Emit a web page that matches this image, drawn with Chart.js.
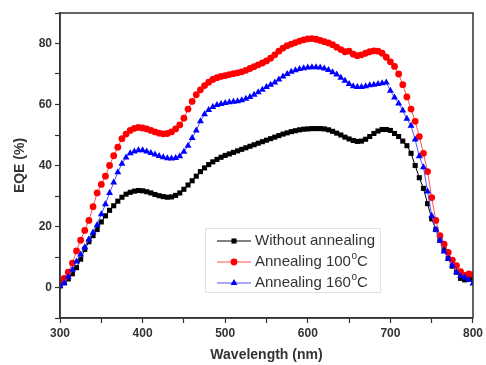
<!DOCTYPE html>
<html>
<head>
<meta charset="utf-8">
<script src="https://cdn.jsdelivr.net/npm/chart.js@4.4.1/dist/chart.umd.min.js"></script>
<style>
  html, body { margin: 0; padding: 0; background: #fff; }
  #wrap { width: 486px; height: 365px; }
</style>
</head>
<body>
<div id="wrap"><canvas id="eqe-chart" width="486" height="365"></canvas></div>
<script>
// Dados
const wavelengths = [
  300, 305, 310, 315, 320, 325, 330, 335, 340, 345, 350, 355, 360, 365, 370, 375, 380, 385, 390, 395,
  400, 405, 410, 415, 420, 425, 430, 435, 440, 445, 450, 455, 460, 465, 470, 475, 480, 485, 490, 495,
  500, 505, 510, 515, 520, 525, 530, 535, 540, 545, 550, 555, 560, 565, 570, 575, 580, 585, 590, 595,
  600, 605, 610, 615, 620, 625, 630, 635, 640, 645, 650, 655, 660, 665, 670, 675, 680, 685, 690, 695,
  700, 705, 710, 715, 720, 725, 730, 735, 740, 745, 750, 755, 760, 765, 770, 775, 780, 785, 790, 795, 800
];

const semRecozimento = [
  0.5, 1.5, 2.8, 4.5, 6.5, 9.3, 12.5, 15, 17, 19, 21.5, 23.5, 25.3, 26.8, 28.3, 29.6, 30.6, 31.2, 31.6, 31.8,
  31.7, 31.4, 31, 30.5, 30.1, 29.8, 29.6, 29.7, 30.2, 31, 32.2, 33.6, 35, 36.5, 38, 39.2, 40.3, 41.2, 42, 42.7,
  43.3, 43.8, 44.3, 44.8, 45.3, 45.8, 46.3, 46.8, 47.3, 47.8, 48.3, 48.8, 49.3, 49.8, 50.3, 50.7, 51.1, 51.4, 51.7, 51.9,
  52, 52.1, 52.1, 52.1, 52, 51.7, 51.2, 50.6, 50, 49.3, 48.7, 48.2, 47.9, 48, 48.6, 49.5, 50.5, 51.3, 51.8, 51.8,
  51.5, 50.5, 49.5, 48, 46.5, 44, 40, 36, 32.5, 27.5, 22.5, 19, 15.5, 12.5, 9.5, 7, 5, 3, 2.5, 2.8, 3
];

const recozimento100 = [
  1.5, 3, 5, 8, 12, 15.5, 18.7, 22, 26.5, 31, 33.8, 36.5, 40, 43.2, 46, 48.8, 50.3, 51.5, 52.2, 52.5,
  52.3, 52, 51.5, 51, 50.6, 50.4, 50.5, 51, 52, 53.3, 55.5, 58.5, 61, 63.2, 64.8, 66.2, 67.3, 68.2, 68.8, 69.2,
  69.5, 69.8, 70.1, 70.4, 70.7, 71.2, 71.8, 72.4, 73, 73.6, 74.3, 75.2, 76.3, 77.5, 78.5, 79.3, 79.8, 80.3, 80.8, 81.2,
  81.5, 81.6, 81.4, 81, 80.6, 80.2, 79.6, 78.8, 78, 77.3, 77.5, 76.5, 76, 76.3, 76.8, 77.3, 77.6, 77.5, 76.8, 75.5,
  74, 72.5, 70, 66.5, 62.5, 58.5, 54.5, 49.5, 44, 38, 29.5, 22, 17, 14.2, 11.5, 9, 7.2, 5.2, 4, 4.5, 4.2
];

const recozimento160 = [
  0.5, 1.5, 3.5, 5.8, 8.5, 10.8, 13.2, 15.8, 18, 20.5, 24, 27.3, 31, 34.4, 37.8, 40.6, 42.6, 44, 44.6, 45,
  45, 44.6, 44.1, 43.6, 43.1, 42.7, 42.4, 42.3, 42.5, 43, 44.5, 46.5, 49, 51.5, 54.5, 56.8, 58.2, 59.2, 59.8, 60.2,
  60.5, 60.7, 60.9, 61.1, 61.4, 61.9, 62.5, 63.2, 64, 64.8, 65.7, 66.5, 67.2, 68.2, 69.2, 70, 70.7, 71.2, 71.6, 71.9,
  72.1, 72.2, 72.2, 72.1, 71.8, 71.3, 70.6, 69.8, 68.8, 67.8, 66.7, 66, 65.7, 65.7, 66, 66.3, 66.5, 66.7, 67, 67.2,
  64.5, 62.3, 60.3, 58, 55.3, 53, 48.5, 43, 39.4, 31.5, 23.5, 19, 15.4, 11.8, 9.5, 7.2, 5, 3.8, 3.3, 2.5, 1.3
];

const yTickLabels = [0, 20, 40, 60, 80];
const xTickLabels = [300, 400, 500, 600, 700, 800];

const FONT = 'Arial, "Liberation Sans", sans-serif';
const TXT = '#333';

const pts = arr => arr.map((v, i) => ({ x: wavelengths[i], y: v }));

// Moldura + legenda dentro da área do gráfico
const frameLegend = {
  id: 'frameLegend',
  afterDraw(chart) {
    const { ctx, chartArea: a } = chart;
    ctx.save();
    ctx.strokeStyle = '#333';
    ctx.lineWidth = 1.5;
    ctx.strokeRect(a.left, a.top, a.right - a.left, a.bottom - a.top);

    // legenda
    const box = { x: 205, y: 228, w: 175, h: 64 };
    ctx.lineWidth = 1;
    ctx.strokeStyle = '#e2e2e2';
    ctx.strokeRect(box.x + 0.5, box.y + 0.5, box.w, box.h);
    const rows = [
      { ds: 0, y: 241, parts: ['Without annealing'] },
      { ds: 1, y: 262, parts: ['Annealing 100', 'o', 'C'] },
      { ds: 2, y: 283, parts: ['Annealing 160', 'o', 'C'] }
    ];
    rows.forEach(r => {
      const d = chart.data.datasets[r.ds];
      ctx.strokeStyle = d.borderColor;
      ctx.lineWidth = 1;
      ctx.beginPath();
      ctx.moveTo(217, r.y);
      ctx.lineTo(251, r.y);
      ctx.stroke();
      ctx.fillStyle = d.pointBackgroundColor;
      ctx.strokeStyle = d.pointBackgroundColor;
      Chart.helpers.drawPoint(ctx, {
        pointStyle: d.pointStyle, radius: d.pointRadius, borderWidth: 0
      }, 234, r.y);
      // texto
      ctx.fillStyle = TXT;
      ctx.textBaseline = 'middle';
      ctx.textAlign = 'left';
      let x = 255;
      r.parts.forEach((p, i) => {
        if (i === 1) {
          ctx.font = '10px ' + FONT;
          ctx.fillText(p, x + 0.5, r.y - 6);
        } else {
          ctx.font = '15px ' + FONT;
          ctx.fillText(p, x, r.y);
        }
        x += ctx.measureText(p).width + (i === 1 ? 0.5 : 0);
      });
    });
    ctx.restore();
  }
};

new Chart(document.getElementById('eqe-chart').getContext('2d'), {
  type: 'line',
  data: {
    datasets: [
      {
        label: 'Without annealing',
        data: pts(semRecozimento),
        borderColor: '#000',
        backgroundColor: '#000',
        pointBackgroundColor: '#000',
        pointBorderColor: '#000',
        pointStyle: 'rect',
        pointRadius: 3.6,
        pointBorderWidth: 0,
        borderWidth: 1,
        order: 3
      },
      {
        label: 'Annealing 100°C',
        data: pts(recozimento100),
        borderColor: 'rgb(255, 80, 80)',
        backgroundColor: '#f00',
        pointBackgroundColor: '#f00',
        pointBorderColor: '#f00',
        pointStyle: 'circle',
        pointRadius: 3.4,
        pointBorderWidth: 0,
        borderWidth: 1,
        order: 2
      },
      {
        label: 'Annealing 160°C',
        data: pts(recozimento160),
        borderColor: 'rgb(80, 80, 255)',
        backgroundColor: '#00f',
        pointBackgroundColor: '#00f',
        pointBorderColor: '#00f',
        pointStyle: 'triangle',
        pointRadius: 4,
        pointBorderWidth: 0,
        borderWidth: 1,
        order: 1
      }
    ]
  },
  options: {
    responsive: false,
    animation: false,
    layout: { padding: { left: 0, right: 11, top: 13, bottom: 0 } },
    scales: {
      x: {
        type: 'linear',
        min: 300,
        max: 800,
        afterFit: s => { s.height = 47; },
        border: { color: '#333', width: 1.5 },
        grid: { drawOnChartArea: false, tickLength: 5, tickColor: '#333', tickWidth: 1.2 },
        ticks: {
          stepSize: 50,
          padding: 3,
          color: TXT,
          font: { family: FONT, size: 12, weight: 'bold' },
          callback: v => xTickLabels.includes(v) ? v : ''
        },
        title: {
          display: true,
          text: 'Wavelength (nm)',
          color: TXT,
          padding: { top: 1, bottom: 1 },
          font: { family: FONT, size: 14, weight: 'bold' }
        }
      },
      y: {
        min: -10,
        max: 90,
        afterFit: s => { s.width = 60; },
        border: { color: '#333', width: 1.5 },
        grid: { drawOnChartArea: false, tickLength: 5, tickColor: '#333', tickWidth: 1.2 },
        ticks: {
          stepSize: 10,
          padding: 3,
          color: TXT,
          font: { family: FONT, size: 12, weight: 'bold' },
          callback: v => yTickLabels.includes(v) ? v : ''
        },
        title: {
          display: true,
          text: 'EQE (%)',
          color: TXT,
          padding: { top: 12, bottom: 0 },
          font: { family: FONT, size: 14, weight: 'bold' }
        }
      }
    },
    plugins: {
      legend: { display: false },
      tooltip: { enabled: false }
    }
  },
  plugins: [frameLegend]
});
</script>
</body>
</html>
